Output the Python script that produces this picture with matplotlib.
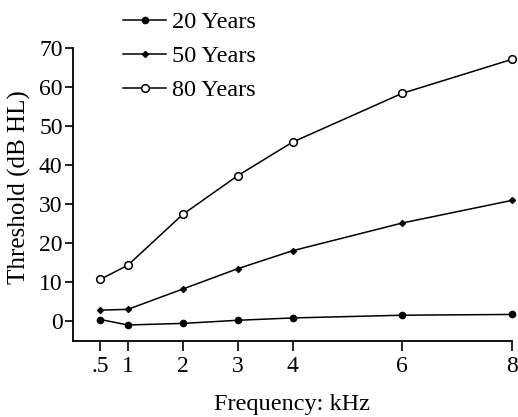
import matplotlib
matplotlib.use("Agg")
import matplotlib.pyplot as plt

freq = [0.5, 1, 2, 3, 4, 6, 8]
y20 = [0.5, -0.9, -0.5, 0.3, 0.9, 1.6, 1.8]
y50 = [2.9, 3.1, 8.3, 13.5, 18.1, 25.2, 31.0]
y80 = [10.8, 14.4, 27.4, 37.3, 45.9, 58.4, 67.1]
xtick_labels = [".5", "1", "2", "3", "4", "6", "8"]
yticks = [0, 10, 20, 30, 40, 50, 60, 70]

plt.rcParams['font.family'] = ['Liberation Serif', 'DejaVu Serif']

fig = plt.figure(figsize=(5.18, 4.17), dpi=100)
ax = fig.add_axes([73/518, 1-341/417, (512-73)/518, (341-48)/417])

l20, = ax.plot(freq, y20, '-', color='black', lw=1.1, marker='o', ms=4.5,
               mfc='black', mec='black', clip_on=False, label='20 Years')
l50, = ax.plot(freq, y50, '-', color='black', lw=1.1, marker='D', ms=3,
               mfc='black', mec='black', clip_on=False, label='50 Years')
l80, = ax.plot(freq, y80, '-', color='black', lw=1.1, marker='o', ms=5.5,
               mfc='white', mec='black', mew=1.1, clip_on=False, label='80 Years')

ax.set_xlim(0, 8)
ax.set_ylim(-5, 70)
ax.set_xticks(freq)
ax.set_xticklabels(xtick_labels)
ax.set_yticks(yticks)
for s in ['top', 'right']:
    ax.spines[s].set_visible(False)
for s in ['left', 'bottom']:
    ax.spines[s].set_linewidth(1.3)
ax.tick_params(axis='x', direction='out', length=7, width=1.2, labelsize=17, pad=4)
ax.tick_params(axis='y', direction='out', length=6, width=1.2, labelsize=17, pad=1.5)

ax.set_xlabel('Frequency: kHz', fontsize=17.5, labelpad=12)
ax.set_ylabel('Threshold (dB HL)', fontsize=18)
ax.yaxis.set_label_coords(-(73 - 31) / 439, (341 - 187.5) / 293)

fig.legend(handles=[l20, l50, l80], loc='upper left',
           bbox_to_anchor=(123/518, 1-11/417), frameon=False, fontsize=17.5,
           handlelength=1.77, handletextpad=0.25, labelspacing=0.5,
           borderpad=0, borderaxespad=0)

fig.savefig('out.png', dpi=100)
